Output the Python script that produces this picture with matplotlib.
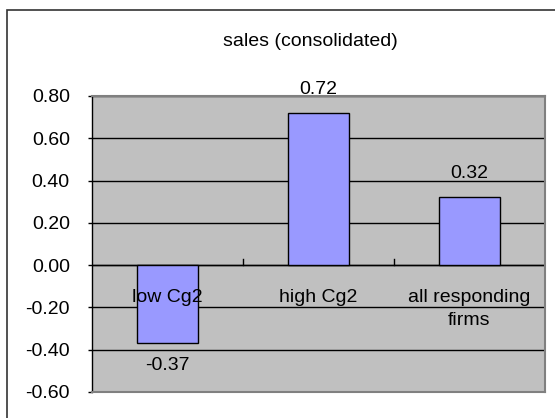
import matplotlib.pyplot as plt
from matplotlib.patches import Rectangle

plt.rcParams['font.family'] = ['Liberation Sans', 'DejaVu Sans']

categories = ['low Cg2', 'high Cg2', 'all responding\nfirms']
values = [-0.37, 0.72, 0.32]
value_labels = ['-0.37', '0.72', '0.32']
yticks = [-0.6, -0.4, -0.2, 0.0, 0.2, 0.4, 0.6, 0.8]

fig = plt.figure(figsize=(5.55, 4.18), dpi=100)
W, H = 555, 418

# outer chart border
fig.patches.append(Rectangle((7 / W, -0.05), 1.0, 1 - 10 / H + 0.05,
                             transform=fig.transFigure, fill=False,
                             edgecolor='#333333', linewidth=1.2))

ax = fig.add_axes([92 / W, 1 - 392 / H, (545 - 92) / W, (392 - 96) / H])
ax.set_facecolor('#C0C0C0')

x = range(len(categories))
ax.bar(x, values, width=0.4, color='#9999FF', edgecolor='black',
       linewidth=1.0, zorder=3)

ax.set_xlim(-0.5, 2.5)
ax.set_ylim(-0.6, 0.8)
ax.set_yticks(yticks)
ax.set_yticklabels(['%.2f' % v for v in yticks], fontsize=14)
ax.yaxis.grid(True, color='black', linewidth=1.0, zorder=1)
ax.set_axisbelow(True)
ax.tick_params(axis='y', direction='out', length=3, width=1, pad=13,
               colors='black')
ax.tick_params(axis='x', bottom=False, labelbottom=False)

for side in ['top', 'right', 'bottom']:
    ax.spines[side].set_color('#808080')
    ax.spines[side].set_linewidth(1.5)
ax.spines['left'].set_color('black')
ax.spines['left'].set_linewidth(1.0)

# zero line with category divider ticks
ax.axhline(0, color='black', linewidth=1.0, zorder=2)
for b in [0.5, 1.5]:
    ax.plot([b, b], [0, 0.03], color='black', linewidth=1.0, zorder=2)

# category labels next to the zero line
for i, c in enumerate(categories):
    ax.annotate(c, (i, 0), xytext=(0, -17), textcoords='offset points',
                ha='center', va='top', fontsize=14, zorder=5,
                linespacing=1.5)

# value labels
for i, (v, lab) in enumerate(zip(values, value_labels)):
    off = 17 if v >= 0 else -16
    ax.annotate(lab, (i, v), xytext=(0, off), textcoords='offset points',
                ha='center', va='center', fontsize=14, zorder=5,
                annotation_clip=False)

fig.text(310 / W, 1 - 41 / H, 'sales (consolidated)', ha='center',
         va='center', fontsize=14)

fig.savefig('out.png', dpi=100)
